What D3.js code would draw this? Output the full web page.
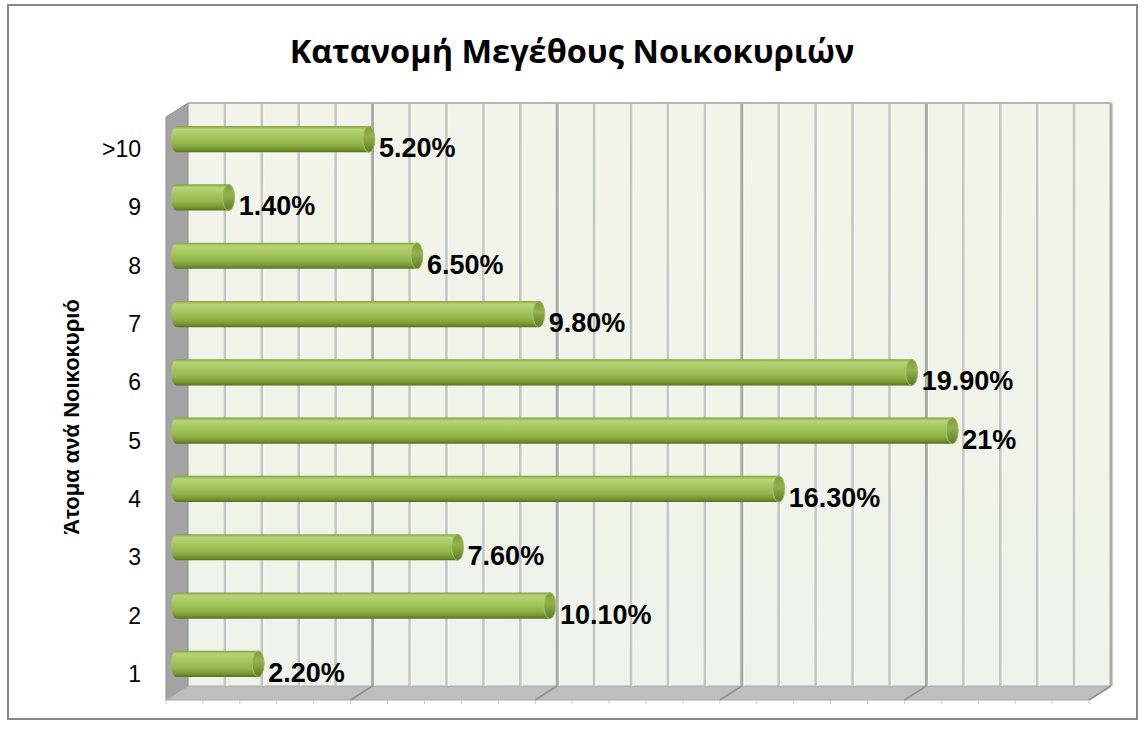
<!DOCTYPE html>
<html>
<head>
<meta charset="utf-8">
<title>Κατανομή Μεγέθους Νοικοκυριών</title>
<script src="https://d3js.org/d3.v7.min.js"></script>
<style>
  body { margin: 0; background: #fff; }
  .cat_label { font-family: "Liberation Sans", Arial, sans-serif; font-size: 23px; fill: #000; }
  .val_label { font-family: "Liberation Sans", Arial, sans-serif; font-size: 27px; font-weight: bold; fill: #000; }
  .axis_title { font-family: "Liberation Sans", Arial, sans-serif; font-size: 22px; font-weight: bold; fill: #000; }
  .title { font-family: "Open Sans", "Noto Sans", sans-serif; font-size: 32.5px; font-weight: bold; fill: #000; }
</style>
</head>
<body>
<div id="chart"></div>
<script>

// data
const categories = ["1", "2", "3", "4", "5", "6", "7", "8", "9", ">10"];
const values = [2.2, 10.1, 7.6, 16.3, 21, 19.9, 9.8, 6.5, 1.4, 5.2];
const valueLabels = ["2.20%", "10.10%", "7.60%", "16.30%", "21%", "19.90%", "9.80%", "6.50%", "1.40%", "5.20%"];
const gridTicks = d3.range(0, 26);   // 0..25 %, major every 5

// dimensions
const W = 1145, H = 732;
const wall = {left: 188, right: 1111, top: 103, bottom: 686};
const depth = {dx: -22, dy: 14};        // front floor edge offset
const barOff = {dx: -11, dy: 7};        // bars sit half way in depth

const svg = d3.select("#chart").append("svg")
    .attr("width", W).attr("height", H);

const defs = svg.append("defs");

// gradients
const wallGrad = defs.append("linearGradient").attr("id", "wallGrad")
    .attr("x1", 0).attr("y1", 0).attr("x2", 0).attr("y2", 1);
wallGrad.append("stop").attr("offset", 0).attr("stop-color", "#f3f4e9");
wallGrad.append("stop").attr("offset", 1).attr("stop-color", "#edf3eb");

const barGrad = defs.append("linearGradient").attr("id", "barGrad")
    .attr("x1", 0).attr("y1", 0).attr("x2", 0).attr("y2", 1);
[[0, "#80a03c"], [0.12, "#b7d478"], [0.35, "#a8c962"], [0.68, "#92b44b"], [0.88, "#779532"], [1, "#55701d"]]
    .forEach(s => barGrad.append("stop").attr("offset", s[0]).attr("stop-color", s[1]));

const capGrad = defs.append("linearGradient").attr("id", "capGrad")
    .attr("x1", 0).attr("y1", 0).attr("x2", 0).attr("y2", 1);
[[0, "#7d9b3a"], [0.4, "#93b24f"], [1, "#5e7a24"]]
    .forEach(s => capGrad.append("stop").attr("offset", s[0]).attr("stop-color", s[1]));

// outer border
svg.append("rect")
    .attr("x", 8).attr("y", 5).attr("width", 1129).attr("height", 714)
    .attr("fill", "none").attr("stroke", "#878787").attr("stroke-width", 2);

// scales
const x = d3.scaleLinear().domain([0, 25]).range([wall.left, wall.right]);
const y = d3.scaleBand()
    .domain(categories.slice().reverse())
    .range([wall.top, wall.bottom])
    .paddingInner(0.55)
    .paddingOuter(0.275);

// back wall
svg.append("rect")
    .attr("x", wall.left).attr("y", wall.top)
    .attr("width", wall.right - wall.left).attr("height", wall.bottom - wall.top)
    .attr("fill", "url(#wallGrad)");

// left side wall
svg.append("polygon")
    .attr("points", [[wall.left, wall.top], [wall.left, wall.bottom],
        [wall.left + depth.dx, wall.bottom + depth.dy], [wall.left + depth.dx, wall.top + depth.dy]].join(" "))
    .attr("fill", "#a3a3a3").attr("stroke", "#8e8e8e").attr("stroke-width", 1);

// floor
svg.append("polygon")
    .attr("points", [[wall.left, wall.bottom], [wall.right, wall.bottom],
        [wall.right + depth.dx, wall.bottom + depth.dy], [wall.left + depth.dx, wall.bottom + depth.dy]].join(" "))
    .attr("fill", "#bebebc").attr("stroke", "#a9a9a7").attr("stroke-width", 1);

// gridlines on back wall
svg.selectAll(".grid_hi")
    .data(gridTicks.filter(d => d > 0))
    .enter().append("line")
        .attr("x1", d => x(d) + 2).attr("x2", d => x(d) + 2)
        .attr("y1", wall.top).attr("y2", wall.bottom)
        .attr("stroke", "#f8f9f6").attr("stroke-width", 1.5);

svg.selectAll(".grid")
    .data(gridTicks.filter(d => d > 0))
    .enter().append("line")
        .attr("x1", d => x(d)).attr("x2", d => x(d))
        .attr("y1", wall.top).attr("y2", wall.bottom)
        .attr("stroke", d => d % 5 === 0 ? "#a7aca5" : "#c3c7c1")
        .attr("stroke-width", d => d % 5 === 0 ? 3 : 2.5);

// top edge of back wall
svg.append("line")
    .attr("x1", wall.left).attr("x2", wall.right)
    .attr("y1", wall.top).attr("y2", wall.top)
    .attr("stroke", "#b4b6b2").attr("stroke-width", 2);

// major lines across the floor
svg.selectAll(".floor_line")
    .data(gridTicks.filter(d => d % 5 === 0 && d > 0))
    .enter().append("line")
        .attr("x1", d => x(d)).attr("y1", wall.bottom)
        .attr("x2", d => x(d) + depth.dx).attr("y2", wall.bottom + depth.dy)
        .attr("stroke", "#8f918d").attr("stroke-width", 1.5);

// tick marks on the front floor edge
svg.selectAll(".tick")
    .data(gridTicks)
    .enter().append("line")
        .attr("x1", d => x(d) + depth.dx).attr("x2", d => x(d) + depth.dx)
        .attr("y1", wall.bottom + depth.dy).attr("y2", wall.bottom + depth.dy + 4)
        .attr("stroke", "#c8c8c8").attr("stroke-width", 1);

// bars (cylinders)
const bh = y.bandwidth();
const rx = 6;
const rows = categories.map((c, i) => ({cat: c, v: values[i], lab: valueLabels[i]}));

const bars = svg.selectAll(".bar")
    .data(rows)
    .enter().append("g")
        .attr("class", "bar")
        .attr("transform", d => `translate(${barOff.dx},${y(d.cat) + barOff.dy})`);

bars.append("path")
    .attr("d", d => {
        const x0 = x(0), x1 = x(d.v);
        return `M${x0},0 L${x1},0 A${rx},${bh / 2} 0 0 1 ${x1},${bh} L${x0},${bh} A${rx},${bh / 2} 0 0 1 ${x0},0 Z`;
    })
    .attr("fill", "url(#barGrad)");

bars.append("ellipse")
    .attr("cx", d => x(d.v)).attr("cy", bh / 2)
    .attr("rx", rx).attr("ry", bh / 2)
    .attr("fill", "url(#capGrad)")
    .attr("stroke", "#a9c76a").attr("stroke-width", 0.8);

// value labels
svg.selectAll(".val_label")
    .data(rows)
    .enter().append("text")
        .attr("class", "val_label")
        .attr("x", d => x(d.v) - 1)
        .attr("y", d => y(d.cat) + bh / 2 + 25)
        .text(d => d.lab);

// category labels
svg.selectAll(".cat_label")
    .data(categories)
    .enter().append("text")
        .attr("class", "cat_label")
        .attr("x", 141)
        .attr("y", d => y(d) + bh / 2 + 25)
        .attr("text-anchor", "end")
        .text(d => d);

// axis title
svg.append("text")
    .attr("class", "axis_title")
    .attr("transform", "translate(79,417) rotate(-90)")
    .attr("text-anchor", "middle")
    .text("Άτομα ανά Νοικοκυριό");

// chart title
svg.append("text")
    .attr("class", "title")
    .attr("x", 572).attr("y", 63)
    .attr("text-anchor", "middle")
    .text("Κατανομή Μεγέθους Νοικοκυριών");

</script>
</body>
</html>
